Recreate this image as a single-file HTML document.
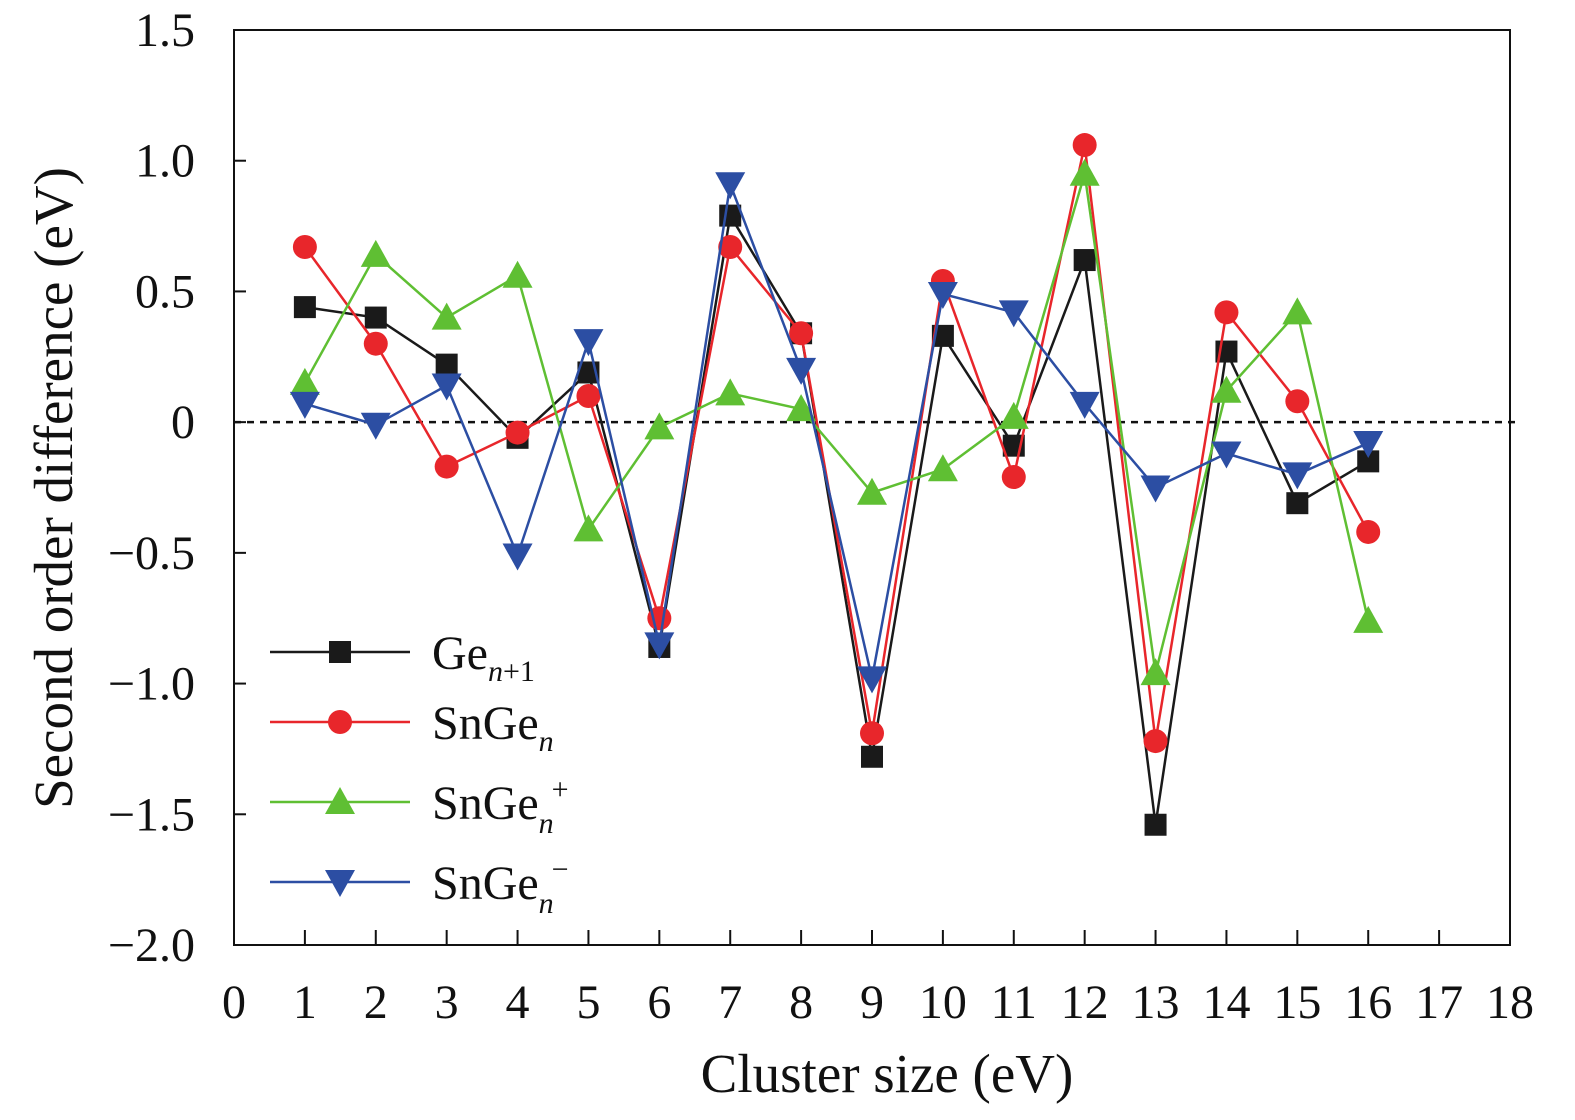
<!DOCTYPE html>
<html><head><meta charset="utf-8"><style>
body{margin:0;background:#fff;}
svg text{font-family:"Liberation Serif",serif;fill:#111;}
</style></head><body>
<svg id="c" width="1575" height="1115" viewBox="0 0 1575 1115"></svg>
<script>
const categories=[1,2,3,4,5,6,7,8,9,10,11,12,13,14,15,16];
const geN1=[0.44,0.40,0.22,-0.06,0.19,-0.86,0.79,0.34,-1.28,0.33,-0.09,0.62,-1.54,0.27,-0.31,-0.15];
const snGe=[0.67,0.30,-0.17,-0.04,0.10,-0.75,0.67,0.34,-1.19,0.54,-0.21,1.06,-1.22,0.42,0.08,-0.42];
const snGePlus=[0.15,0.64,0.40,0.56,-0.41,-0.02,0.11,0.05,-0.27,-0.18,0.02,0.95,-0.96,0.12,0.42,-0.76];
const snGeMinus=[0.07,-0.01,0.14,-0.51,0.31,-0.85,0.91,0.20,-0.98,0.49,0.42,0.07,-0.25,-0.12,-0.20,-0.08];
const xTicks=[0,1,2,3,4,5,6,7,8,9,10,11,12,13,14,15,16,17,18];
const yTicks=[1.5,1.0,0.5,0,-0.5,-1.0,-1.5,-2.0];
const yTickLabels=["1.5","1.0","0.5","0","\u22120.5","\u22121.0","\u22121.5","\u22122.0"];

const L=234,R=1510,T=30,B=945;
const X=v=>L+(v-0)/18*(R-L);
const Y=v=>T+(1.5-v)/3.5*(B-T);
const svg=document.getElementById('c');
const NS='http://www.w3.org/2000/svg';
function mk(tag,attrs,parent){const e=document.createElementNS(NS,tag);for(const k in attrs)e.setAttribute(k,attrs[k]);(parent||svg).appendChild(e);return e;}

const frame=mk('rect',{x:L,y:T,width:R-L,height:B-T,fill:'none',stroke:'#111','stroke-width':2});



xTicks.forEach(t=>{
  const ln=mk('line',{x1:X(t),x2:X(t),y1:B,y2:B-15,stroke:'#111','stroke-width':2});
  
  
  const tx=mk('text',{x:X(t),y:1018,'text-anchor':'middle','font-size':48});
  tx.textContent=t;
  
  
});
yTicks.forEach((t,i)=>{
  const ln=mk('line',{x1:L,x2:L+12,y1:Y(t),y2:Y(t),stroke:'#111','stroke-width':2});
  
  
  const tx=mk('text',{x:195,y:Y(t)+16,'text-anchor':'end','font-size':48});
  tx.textContent=yTickLabels[i];
  
  
});
const zl=mk('line',{x1:L,x2:1515,y1:Y(0),y2:Y(0),stroke:'#111','stroke-width':2.5,'stroke-dasharray':'7,6'});



const xt=mk('text',{x:887,y:1092,'text-anchor':'middle','font-size':55});
xt.textContent='Cluster size (eV)';


const yt=mk('text',{x:0,y:0,'text-anchor':'middle','font-size':55,transform:'translate(72,488) rotate(-90)'});
yt.textContent='Second order difference (eV)';



function marker(g,type,x,y,color){
  if(type==='sq') return mk('rect',{x:x-11,y:y-11,width:22,height:22,fill:color},g);
  if(type==='ci') return mk('circle',{cx:x,cy:y,r:12,fill:color},g);
  if(type==='up') return mk('polygon',{points:`${x},${y-15} ${x+15},${y+12} ${x-15},${y+12}`,fill:color},g);
  return mk('polygon',{points:`${x},${y+15} ${x+15},${y-12} ${x-15},${y-12}`,fill:color},g);
}
const series=[
  {name:'ge-n1',vals:geN1,color:'#1a1a1a',m:'sq'},
  {name:'snge',vals:snGe,color:'#e8262b',m:'ci'},
  {name:'snge-plus',vals:snGePlus,color:'#5fbf33',m:'up'},
  {name:'snge-minus',vals:snGeMinus,color:'#2c4ea3',m:'dn'}
];
series.forEach(s=>{
  const g=mk('g',{});
  
  
  const pl=mk('polyline',{points:s.vals.map((v,i)=>X(categories[i])+','+Y(v)).join(' '),fill:'none',stroke:s.color,'stroke-width':2.5},g);
  
  
  s.vals.forEach((v,i)=>{
    const m=marker(g,s.m,X(categories[i]),Y(v),s.color);
    
    
  });
});

const legRows=[652,722,802,882];
const legLabels=[
  'Ge<tspan font-size="30" font-style="italic" dy="12">n</tspan><tspan font-size="30" dy="0">+1</tspan>',
  'SnGe<tspan font-size="30" font-style="italic" dy="12">n</tspan>',
  'SnGe<tspan font-size="30" font-style="italic" dy="14">n</tspan><tspan font-size="30" dx="-2" dy="-34">+</tspan>',
  'SnGe<tspan font-size="30" font-style="italic" dy="14">n</tspan><tspan font-size="30" dx="-2" dy="-34">\u2212</tspan>'
];
const lg=mk('g',{});


series.forEach((s,i)=>{
  const y=legRows[i];
  const e=mk('g',{},lg);
  
  
  mk('line',{x1:270,x2:410,y1:y,y2:y,stroke:s.color,'stroke-width':2.5},e);
  marker(e,s.m,340,y,s.color);
  const t=mk('text',{x:432,y:y+17,'font-size':48},e);
  t.innerHTML=legLabels[i];
});
</script>
</body></html>
